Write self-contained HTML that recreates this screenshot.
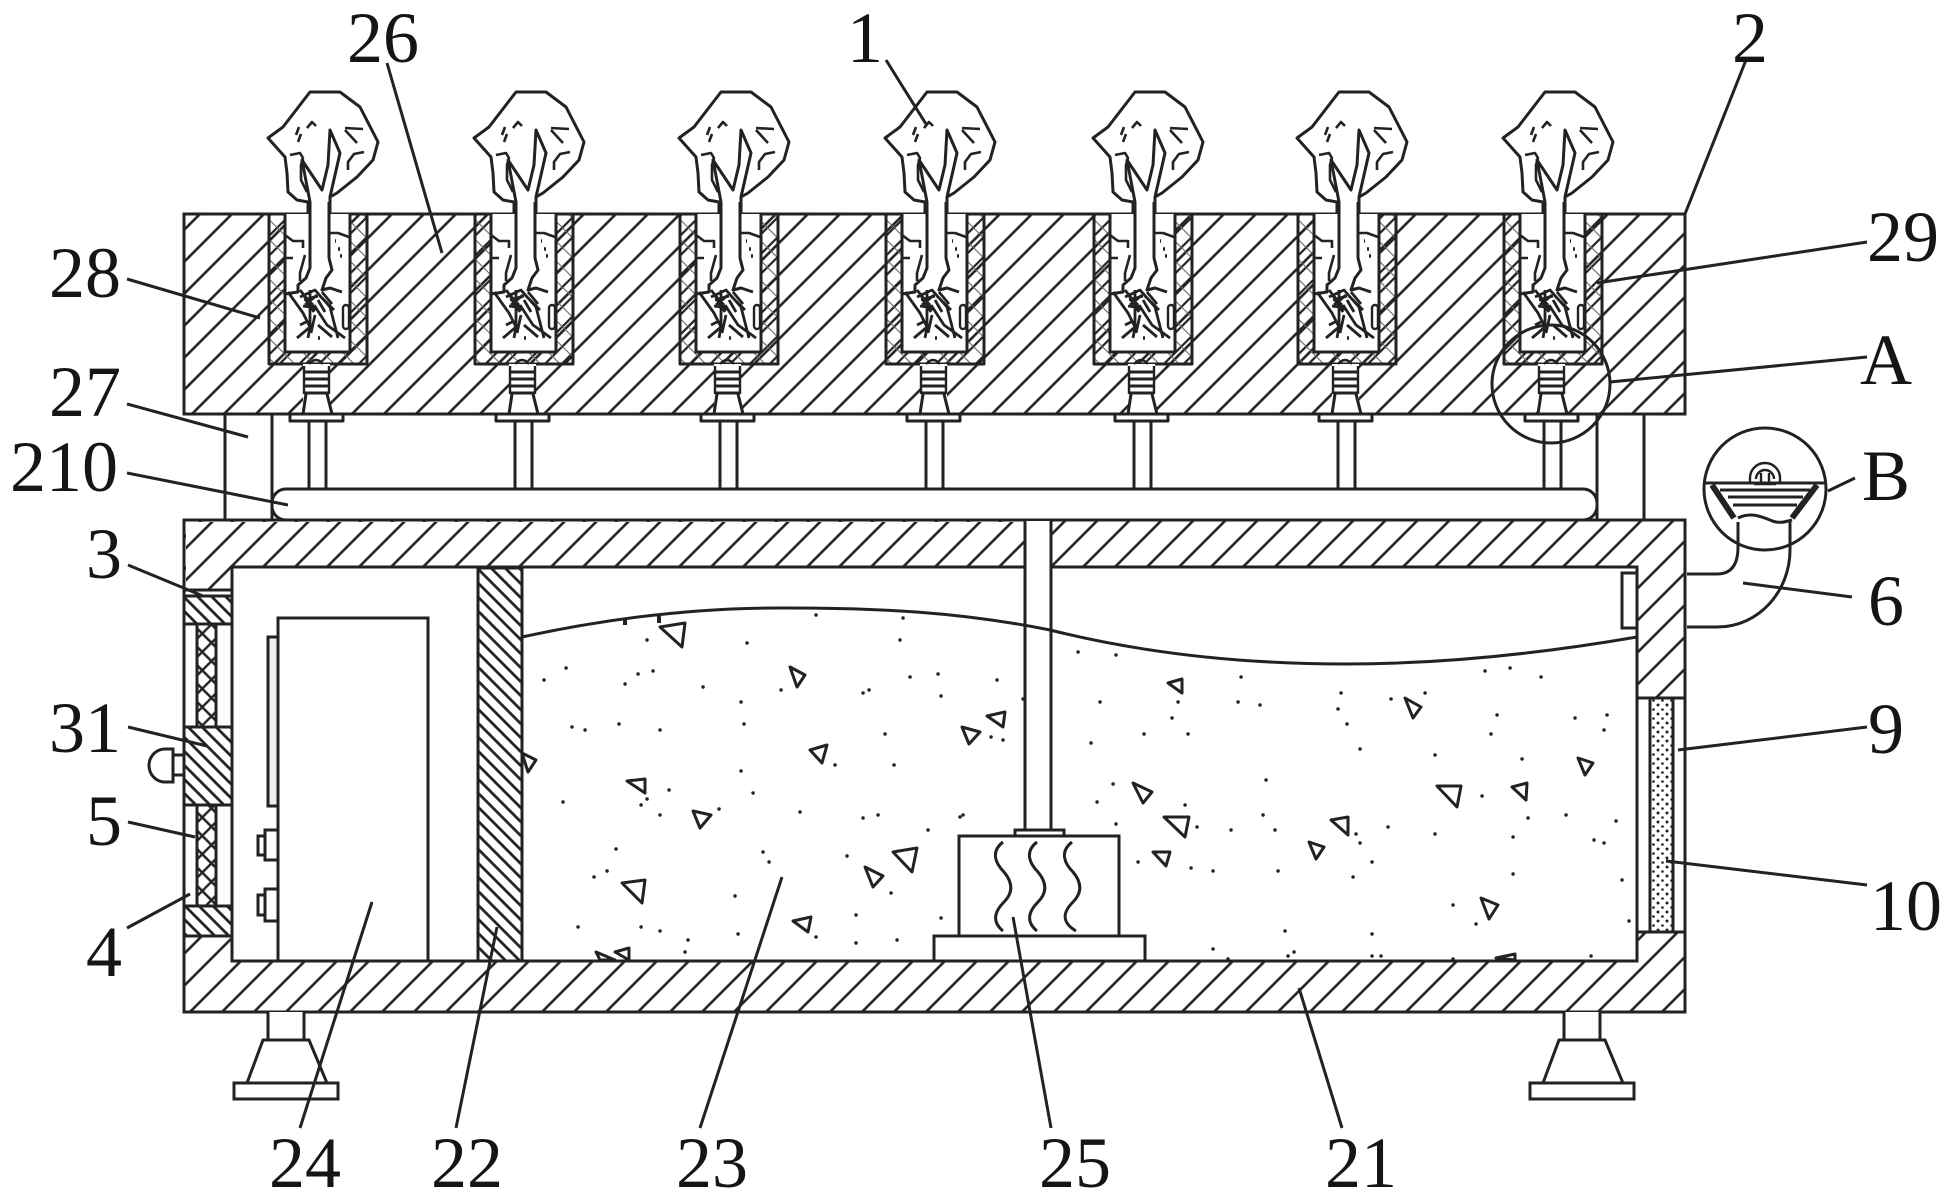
<!DOCTYPE html>
<html><head><meta charset="utf-8"><title>Diagram</title>
<style>html,body{margin:0;padding:0;background:#fff}svg{display:block}
text{font-family:"Liberation Serif","Noto Serif CJK SC",serif;font-size:72px;fill:#151515;text-anchor:middle}</style></head>
<body>
<svg width="1949" height="1196" viewBox="0 0 1949 1196" xmlns="http://www.w3.org/2000/svg">
<defs>
<pattern id="hA" patternUnits="userSpaceOnUse" width="22.627" height="22.627" patternTransform="rotate(45)"><line x1="21.2" y1="0" x2="21.2" y2="22.627" stroke="#222" stroke-width="2.6"/></pattern>
<pattern id="hB" patternUnits="userSpaceOnUse" width="22.627" height="22.627" patternTransform="rotate(45)"><line x1="12.7" y1="0" x2="12.7" y2="22.627" stroke="#222" stroke-width="2.6"/></pattern>
<pattern id="hR" patternUnits="userSpaceOnUse" width="9.9" height="9.9" patternTransform="rotate(-45)"><line x1="5" y1="0" x2="5" y2="9.9" stroke="#222" stroke-width="2.8"/></pattern>
<pattern id="hC" patternUnits="userSpaceOnUse" width="14" height="14" patternTransform="rotate(45)"><path d="M7 0V14" stroke="#222" stroke-width="2.2"/><path d="M0 7H14" stroke="#666" stroke-width="1.1"/></pattern>
<pattern id="hM" patternUnits="userSpaceOnUse" width="13" height="13" patternTransform="rotate(45)"><path d="M6 0V13M0 6H13" stroke="#222" stroke-width="2.4"/></pattern>
<pattern id="hS" patternUnits="userSpaceOnUse" width="9" height="9"><circle cx="2" cy="3" r="1.5" fill="#222"/><circle cx="6.500" cy="7.500" r="1.3" fill="#222"/></pattern>
<g id="plant" fill="none" stroke="#222" stroke-width="3" stroke-linejoin="round">
  <path d="M308 214V202L297 200L288 192L287 173L285 157L268 138L283 127L310 92H340L360 107L378 142L373 160L357 177L337 193L330 197V214" fill="#fff"/>
  <path d="M307 128l5 -6 4 4M296 135l3 -8M298 142l3 -8M345 128l18 1M345 130l12 13M348 170v-8l6 -8 10 -2M290 155l10 -2 3 5-2 7v15l6 12" stroke-width="2.6"/>
  <rect x="269" y="214" width="98" height="150" fill="url(#hC)"/>
  <rect x="285" y="214" width="65" height="138" fill="#fff" stroke="none"/>
  <path d="M310 214V202L302 160L322 190L328 165L330 130L340 153L330 197V214" fill="#fff"/>
  <path d="M285 214V352H350V214"/>
  <path d="M310 202V268L306 278L298 285V292L285 294M329 202V258L332 270L326 278L322 290L330 288L342 292"/>
  <path d="M285 235l8 6h10v7M285 258h8M305 255l-5 18v8M330 233l8 0 11 4" stroke-width="2.6"/>
  <path d="M288 292L303 313L310 327L297 338M310 290V327L308 338M300 297L315 290L330 307L338 338M318 325L332 337M314 305L327 325L345 338M303 295l10 10M305 305l12 -10M306 300l8 12M318 300l7 12M322 292l10 12M300 325l8 -4M315 315l-4 18M304 300l14 -4M303 306l14 2M320 296l14 14M300 290l16 20" stroke-width="2.8"/>
  <rect x="343" y="305" width="6" height="24" rx="3" stroke-width="2.4"/>
  <path d="M335 241h1M338 249h2M340 256h2M318 338h2" stroke-width="3.4"/>
  <path d="M303 364h27V414h-27z" fill="#fff" stroke="none"/>
  <path d="M309 364q7 -8 14 0" stroke-width="2.4"/>
  <path d="M304 366V394M329 366V394" stroke-width="2.4"/>
  <path d="M304 372H329M304 379H329M304 386H329M304 393H329" stroke-width="3"/>
  <path d="M306 394L303 414M327 394L332 414"/>
  <rect x="290" y="414" width="53" height="7" fill="#fff"/>
  <path d="M309 421V489M326 421V489"/>
</g>
</defs>

<!-- top block -->
<rect x="184" y="214" width="1501" height="200" fill="url(#hA)" stroke="#222" stroke-width="3"/>
<use href="#plant"/>
<use href="#plant" x="206"/>
<use href="#plant" x="411"/>
<use href="#plant" x="617"/>
<use href="#plant" x="825"/>
<use href="#plant" x="1029"/>
<use href="#plant" x="1235"/>

<!-- legs and bar -->
<g fill="#fff" stroke="#222" stroke-width="3">
<rect x="225" y="414" width="47" height="106"/>
<rect x="1597" y="414" width="47" height="106"/>
<rect x="272" y="489" width="1325" height="31" rx="14"/>
</g>

<!-- main box -->
<rect x="184" y="520" width="1501" height="492" fill="url(#hB)" stroke="#222" stroke-width="3"/>
<rect x="186" y="522" width="839" height="45" fill="#fff"/>
<rect x="186" y="522" width="839" height="45" fill="url(#hA)"/>
<rect x="186" y="522" width="46" height="68" fill="#fff"/>
<rect x="186" y="522" width="46" height="68" fill="url(#hA)"/>
<rect x="232" y="567" width="1405" height="394" fill="#fff" stroke="#222" stroke-width="3"/>

<!-- rod -->
<rect x="1025" y="521" width="26" height="315" fill="#fff"/>
<path d="M1025 521V830M1051 521V830" stroke="#222" stroke-width="3" fill="none"/>

<!-- left wall window -->
<rect x="184" y="590" width="48" height="346" fill="#fff" stroke="#222" stroke-width="3"/>
<g stroke="#222" stroke-width="3">
<rect x="184" y="596" width="48" height="28" fill="url(#hR)"/>
<rect x="184" y="727" width="48" height="78" fill="url(#hR)"/>
<rect x="184" y="906" width="48" height="30" fill="url(#hR)"/>
<rect x="197" y="624" width="19" height="103" fill="url(#hM)"/>
<rect x="197" y="805" width="19" height="101" fill="url(#hM)"/>
</g>
<path d="M173 749H165A16 16.500 0 0 0 165 782H173ZM173 755H184V775H173" fill="#fff" stroke="#222" stroke-width="3"/>

<!-- cabinet -->
<g fill="#fff" stroke="#222" stroke-width="3">
<rect x="268" y="637" width="10" height="169" fill="#eee"/>
<rect x="265" y="830" width="13" height="30"/>
<rect x="258" y="836" width="7" height="19"/>
<rect x="265" y="889" width="13" height="32"/>
<rect x="258" y="895" width="7" height="20"/>
<rect x="278" y="618" width="150" height="343"/>
<rect x="478" y="568" width="44" height="393" fill="url(#hR)"/>
</g>

<!-- right wall sensor and window -->
<g stroke="#222" stroke-width="3">
<rect x="1622" y="573" width="15" height="55" fill="#fff"/>
<rect x="1637" y="698" width="48" height="234" fill="#fff"/>
<rect x="1650" y="698" width="23" height="234" fill="url(#hS)"/>
</g>

<!-- pipe & nozzle -->
<path d="M1687 574H1717Q1738 574 1738 547V522" fill="none" stroke="#222" stroke-width="3"/>
<path d="M1687 627H1717C1760 627 1790 590 1790 550V522" fill="none" stroke="#222" stroke-width="3"/>
<g fill="none" stroke="#222" stroke-width="3">
<circle cx="1765" cy="489" r="61"/>
<path d="M1703 483H1827"/>
<path d="M1720 490H1810M1728 497H1803M1733 505H1797"/>
<path d="M1738 518C1750 512 1760 516 1770 520C1778 524 1785 522 1792 520"/>
<path d="M1712 485L1734 518M1817 485L1792 518" stroke-width="6"/>
<path d="M1750 478A15 15 0 0 1 1780 478V484M1750 478V484M1756 479A9 9 0 0 1 1774 479M1761 473V484M1769 473V484M1754 484H1776" stroke-width="2.4"/>
</g>

<!-- wave -->
<path d="M522 637Q660 607 787 608C880 608 960 612 1050 630C1150 655 1250 664 1346 664C1450 664 1550 652 1637 637" fill="none" stroke="#222" stroke-width="3"/>
<path d="M625 618v7M659 616v7" stroke="#222" stroke-width="4" fill="none"/>

<!-- heater -->
<g stroke="#222" stroke-width="3" fill="#fff">
<rect x="1015" y="830" width="49" height="6"/>
<rect x="959" y="836" width="160" height="100"/>
<rect x="934" y="936" width="211" height="25"/>
</g>
<g fill="none" stroke="#222" stroke-width="3">
<path d="M1003 842C990 852 996 864 1004 872C1014 884 1012 894 1004 902C994 912 992 922 1003 931"/>
<path d="M1037 842C1024 852 1030 864 1038 872C1048 884 1046 894 1038 902C1028 912 1026 922 1037 931"/>
<path d="M1072 842C1059 852 1065 864 1073 872C1083 884 1081 894 1073 902C1063 912 1061 922 1076 931"/>
</g>

<!-- feet -->
<g fill="#fff" stroke="#222" stroke-width="3">
<path d="M268 1012V1040H304V1012"/>
<path d="M263 1040H309L327 1083H247Z"/>
<rect x="234" y="1083" width="104" height="16"/>
<path d="M1564 1012V1040H1600V1012"/>
<path d="M1559 1040H1605L1623 1083H1543Z"/>
<rect x="1530" y="1083" width="104" height="16"/>
</g>

<!-- triangles -->
<g fill="none" stroke="#222" stroke-width="3" stroke-linejoin="round">
<polygon points="660,627 685,623 682,647"/><polygon points="790,667 805,675 797,687"/><polygon points="810,750 827,745 822,763"/>
<polygon points="987,716 1005,712 1003,727"/><polygon points="962,727 980,732 969,744"/><polygon points="522,753 536,760 528,772"/>
<polygon points="627,781 645,779 645,793"/><polygon points="693,811 711,815 700,828"/><polygon points="622,883 645,880 642,903"/>
<polygon points="893,852 917,848 912,872"/><polygon points="865,867 883,876 873,887"/><polygon points="793,921 811,917 808,932"/>
<polygon points="596,952 615,960 600,960"/><polygon points="615,952 629,948 629,960"/>
<polygon points="1168,683 1182,679 1182,693"/><polygon points="1405,698 1421,707 1413,718"/><polygon points="1133,783 1152,792 1143,803"/>
<polygon points="1164,817 1189,817 1185,837"/><polygon points="1153,852 1170,852 1166,866"/><polygon points="1331,820 1348,817 1348,835"/>
<polygon points="1309,842 1324,847 1316,859"/><polygon points="1437,786 1461,786 1457,807"/><polygon points="1512,787 1527,783 1526,800"/>
<polygon points="1578,758 1593,763 1585,775"/><polygon points="1481,898 1498,905 1489,919"/><polygon points="1496,958 1515,954 1515,960"/>
</g>

<!-- dots -->
<path fill="none" stroke="#222" stroke-width="3.4" stroke-linecap="round" d="M816 615h.1M903 618h.1M900 640h.1M747 643h.1M647 640h.1M566 668h.1M544 680h.1M638 674h.1M653 671h.1M625 684h.1M703 687h.1M781 690h.1M863 693h.1M869 690h.1M910 677h.1M938 674h.1M941 696h.1M997 680h.1M1023 699h.1M741 702h.1M572 727h.1M585 730h.1M619 724h.1M660 730h.1M744 724h.1M885 734h.1M991 737h.1M1003 740h.1M835 765h.1M894 765h.1M741 771h.1M669 790h.1M753 793h.1M647 799h.1M641 805h.1M563 802h.1M660 815h.1M719 809h.1M800 812h.1M863 818h.1M878 815h.1M960 817h.1M963 815h.1M928 830h.1M616 849h.1M763 852h.1M769 862h.1M847 856h.1M607 871h.1M594 877h.1M891 893h.1M735 896h.1M856 915h.1M941 918h.1M578 927h.1M641 927h.1M660 931h.1M738 934h.1M816 937h.1M688 940h.1M856 943h.1M897 940h.1M685 952h.1M1078 652h.1M1116 655h.1M1241 677h.1M1100 702h.1M1178 702h.1M1238 702h.1M1260 705h.1M1172 718h.1M1144 734h.1M1188 734h.1M1091 743h.1M1341 693h.1M1338 709h.1M1347 724h.1M1391 699h.1M1425 693h.1M1485 671h.1M1510 668h.1M1541 677h.1M1497 715h.1M1491 734h.1M1575 718h.1M1607 715h.1M1604 730h.1M1360 749h.1M1435 755h.1M1522 759h.1M1113 784h.1M1097 802h.1M1266 780h.1M1185 805h.1M1116 824h.1M1263 815h.1M1197 827h.1M1231 830h.1M1275 830h.1M1482 796h.1M1528 818h.1M1566 815h.1M1616 821h.1M1388 827h.1M1356 834h.1M1360 843h.1M1435 834h.1M1513 837h.1M1594 840h.1M1604 843h.1M1138 862h.1M1191 868h.1M1213 871h.1M1278 871h.1M1372 862h.1M1353 877h.1M1513 874h.1M1622 880h.1M1453 905h.1M1476 924h.1M1629 921h.1M1285 931h.1M1372 934h.1M1213 949h.1M1288 956h.1M1294 952h.1M1372 956h.1M1381 956h.1M1591 956h.1M1453 959h.1M1228 959h.1"/>

<!-- detail circle A -->
<circle cx="1551" cy="384" r="59" fill="none" stroke="#222" stroke-width="3"/>

<!-- leaders -->
<g stroke="#222" stroke-width="3" fill="none">
<path d="M387 63L442 253"/>
<path d="M886 60L926 124"/>
<path d="M1746 60L1685 214"/>
<path d="M1867 242L1597 283"/>
<path d="M1867 357L1610 382"/>
<path d="M1855 478L1828 491"/>
<path d="M1852 597L1743 583"/>
<path d="M1867 727L1678 750"/>
<path d="M1867 885L1666 861"/>
<path d="M1342 1128L1299 988"/>
<path d="M1051 1128L1013 917"/>
<path d="M700 1128L782 877"/>
<path d="M456 1128L497 927"/>
<path d="M300 1128L372 902"/>
<path d="M127 928L190 894"/>
<path d="M128 822L195 837"/>
<path d="M128 727L207 746"/>
<path d="M128 565L203 596"/>
<path d="M127 279L260 318"/>
<path d="M127 404L248 437"/>
<path d="M127 473L288 505"/>
</g>

<!-- labels -->
<text x="383" y="62">26</text>
<text x="865" y="62">1</text>
<text x="1750" y="62">2</text>
<text x="1903" y="261">29</text>
<text x="1886" y="384">A</text>
<text x="1886" y="500">B</text>
<text x="1886" y="625">6</text>
<text x="1886" y="753">9</text>
<text x="1906" y="930">10</text>
<text x="1361" y="1187">21</text>
<text x="1075" y="1187">25</text>
<text x="712" y="1187">23</text>
<text x="467" y="1187">22</text>
<text x="305" y="1187">24</text>
<text x="104" y="976">4</text>
<text x="104" y="845">5</text>
<text x="85" y="752">31</text>
<text x="104" y="578">3</text>
<text x="85" y="297">28</text>
<text x="85" y="416">27</text>
<text x="64" y="491">210</text>
</svg>
</body></html>
